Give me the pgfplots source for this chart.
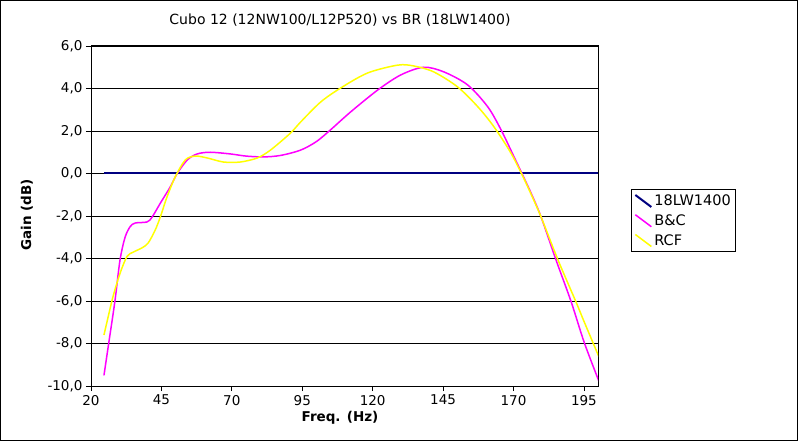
\documentclass[border=0pt]{standalone}
\usepackage{fontspec}
\setmainfont{DejaVu Sans}
\usepackage{pgfplots}
\pgfplotsset{compat=1.18}

\definecolor{navyline}{RGB}{0,0,128}
\definecolor{magline}{RGB}{255,0,255}
\definecolor{yelline}{RGB}{255,255,0}

\begin{document}
\begin{tikzpicture}
% whole picture, 1pt = 1px of the reference
\path[use as bounding box] (-91pt,-55pt) rectangle (708pt,386pt);
\draw[black, line width=1pt] (-90.5pt,-54.5pt) rectangle (706pt,385pt);

\begin{axis}[
    at={(0pt,0pt)}, anchor=south west,
    scale only axis,
    width=507pt, height=340pt,
    xmin=20, xmax=200,
    ymin=-10, ymax=6,
    xtick={20,45,70,95,120,145,170,195},
    ytick={-10,-8,-6,-4,-2,0,2,4,6},
    xtick pos=left, ytick pos=left,
    tick align=outside,
    major tick length=5pt,
    tick style={black, line width=0.8pt},
    axis line style={black, line width=1pt},
    ymajorgrids=true,
    grid style={black, line width=0.8pt},
    /pgf/number format/assume math mode=true,
    yticklabel style={/pgf/number format/.cd, fixed, fixed zerofill, precision=1, use comma},
    xticklabel style={yshift=-0.5pt},
    ticklabel style={font=\fontsize{13.5}{15}\selectfont},
    legend cell align=left,
    legend style={at={(axis description cs:1.065,0.394)}, anchor=south west,
        draw=black, line width=0.8pt, font=\fontsize{14.5}{16}\selectfont,
        row sep=3.5pt, inner sep=3pt},
    legend image code/.code={\draw[#1] (0pt,6pt) -- (16pt,-6pt);},
]
\addplot[navyline, line width=2pt] coordinates {(24.6,0) (200,0)};
\addlegendentry{18LW1400}

\addplot[magline, line width=1.5pt, smooth, tension=0.5] coordinates {
(24.6,-9.5) (26.5,-7.8) (28.5,-6.0) (30.3,-4.07) (32.1,-3.0) (33.9,-2.5)
(35.7,-2.33) (39.9,-2.28) (41.7,-2.05) (44.6,-1.4) (48.1,-0.64) (50.6,0)
(54.2,0.64) (57.7,0.92) (62.3,1.0) (69.5,0.92) (75,0.82) (81.2,0.78)
(87.3,0.85) (94.4,1.1) (100,1.5) (105,2.05) (112.2,2.9) (121.8,3.93)
(130,4.64) (138.1,5.0) (145.3,4.78) (153.8,4.16) (160.9,3.13) (165.6,2.05)
(170.2,0.78) (173,0) (176.5,-1.0) (179.8,-2.05) (185.1,-4.07) (190.5,-6.05)
(195.1,-7.95) (200.4,-9.8)
};
\addlegendentry{B\&C}

\addplot[yelline, line width=1.5pt, smooth, tension=0.5] coordinates {
(24.6,-7.6) (26,-6.8) (27.8,-5.8) (30.3,-4.7) (32.8,-3.9) (35,-3.7)
(38.1,-3.5) (40.3,-3.27) (42.8,-2.66) (44.6,-2.05) (47,-1.1) (49.9,-0.16)
(53.5,0.64) (57,0.82) (61.3,0.73) (67,0.54) (73,0.54) (79,0.73)
(83.7,1.1) (90.8,1.9) (94.4,2.42) (101.5,3.36) (108.6,4.02) (118.2,4.73)
(128.9,5.1) (134.6,5.06) (141.7,4.78) (150.2,4.07) (157.4,3.13) (163.1,2.19)
(169.1,0.96) (173.4,-0.16) (176.5,-1.05) (179.8,-2.05) (185.8,-4.07) (192.2,-6.05)
(195,-6.95) (200.4,-8.65)
};
\addlegendentry{RCF}
\end{axis}

\node[font=\fontsize{14}{16}\selectfont] at (249pt,366pt) {Cubo 12 (12NW100/L12P520) vs BR (18LW1400)};
\node[font=\bfseries\fontsize{13.5}{15}\selectfont, rotate=90] at (-64pt,171pt) {Gain (dB)};
\node[font=\bfseries\fontsize{13.5}{15}\selectfont] at (249pt,-32pt) {Freq. (Hz)};
\end{tikzpicture}
\end{document}
